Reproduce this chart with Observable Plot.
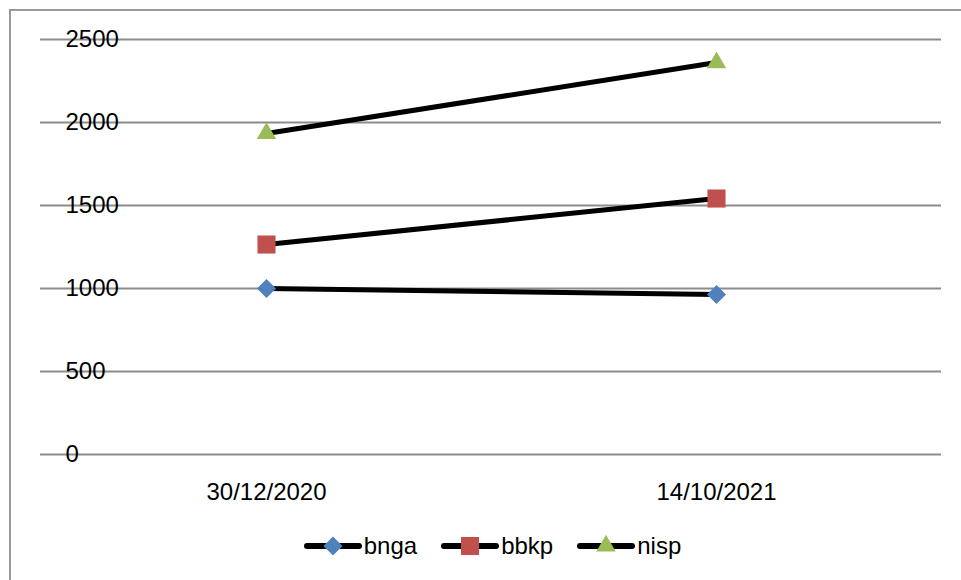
<!DOCTYPE html>
<html>
<head>
<meta charset="utf-8">
<script src="https://cdn.jsdelivr.net/npm/d3@7"></script>
<script src="https://cdn.jsdelivr.net/npm/@observablehq/plot@0.6"></script>
<style>
  html, body { margin: 0; padding: 0; background: #fff; width: 961px; height: 580px; overflow: hidden; }
  body { position: relative; font-family: "Liberation Sans", Arial, sans-serif; }
  #frame { position: absolute; left: 9px; top: 9px; width: 1000px; height: 1000px; border: 2px solid #999; box-sizing: border-box; pointer-events: none; }
  #chart { position: absolute; left: 0; top: 0; }
  #legend { position: absolute; left: 0; top: 530px; width: 961px; height: 32px; display: flex; justify-content: center; align-items: center; font-size: 24px; color: #000; padding-left: 24px; box-sizing: border-box; }
  .item { display: flex; align-items: center; margin: 0 12px; }
  .item span { margin-left: 2px; }
</style>
</head>
<body>
<div id="frame"></div>
<div id="chart"></div>
<div id="legend"></div>
<script>
const dates = ["30/12/2020", "14/10/2021"];
const seriesNames = ["bnga", "bbkp", "nisp"];
const bnga = [1000, 964];
const bbkp = [1265, 1542];
const nisp = [1934, 2361];
const yTicks = [0, 500, 1000, 1500, 2000, 2500];
const colors = ["#4F81BD", "#C0504D", "#9BBB59"];
const symbols = ["diamond2", "square", "triangle"];
const radii = [8.6, 10.2, 7.2];

const values = [bnga, bbkp, nisp];
const data = seriesNames.flatMap((s, i) => dates.map((d, j) => ({series: s, date: d, value: values[i][j]})));

const chart = Plot.plot({
  width: 961,
  height: 520,
  marginLeft: 40,
  marginRight: 20,
  marginTop: 39,
  marginBottom: 66,
  style: {fontFamily: "'Liberation Sans', Arial, sans-serif", fontSize: "24px", background: "transparent", color: "#000"},
  x: {type: "point", domain: dates, padding: 0.5, label: null},
  y: {domain: [0, 2500], label: null},
  marks: [
    Plot.ruleY(yTicks, {stroke: "#8c8c8c", strokeWidth: 2, strokeOpacity: 1}),
    Plot.axisY(yTicks, {tickSize: 0, tickPadding: 0, textAnchor: "start", dx: 25, label: null, fill: "#000", tickFormat: d => String(d)}),
    Plot.axisX({tickSize: 0, tickPadding: 28, label: null, fill: "#000"}),
    Plot.line(data, {x: "date", y: "value", z: "series", stroke: "#000", strokeWidth: 5}),
    ...seriesNames.map((s, i) => Plot.dot(data.filter(d => d.series === s), {
      x: "date", y: "value", symbol: () => symbols[i], fill: colors[i], stroke: "none", r: radii[i]
    }))
  ]
});
document.getElementById("chart").appendChild(chart);

// legend
const symbolTypes = {diamond2: d3.symbolDiamond2, square: d3.symbolSquare, triangle: d3.symbolTriangle};
const legend = document.getElementById("legend");
seriesNames.forEach((s, i) => {
  const item = document.createElement("div");
  item.className = "item";
  const sym = d3.symbol(symbolTypes[symbols[i]], Math.PI * radii[i] * radii[i])();
  item.innerHTML = `<svg width="58" height="24" viewBox="0 0 58 24"><line x1="3" x2="55" y1="12" y2="12" stroke="#000" stroke-width="6" stroke-linecap="round"/><path d="${sym}" transform="translate(29,12)" fill="${colors[i]}"/></svg><span>${s}</span>`;
  legend.appendChild(item);
});
</script>
</body>
</html>
